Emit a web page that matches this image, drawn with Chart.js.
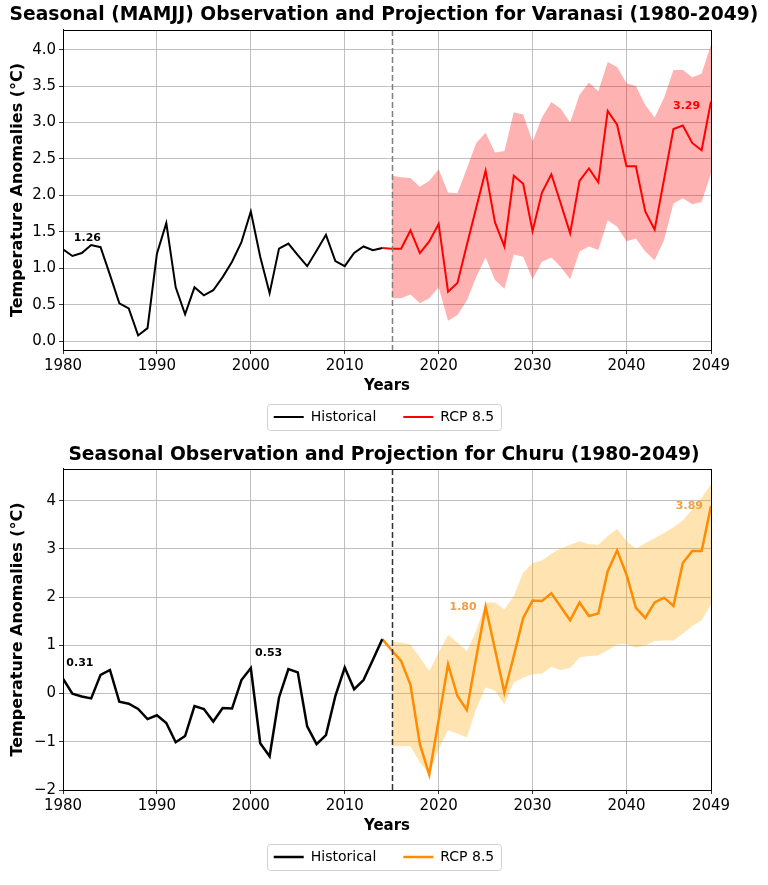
<!DOCTYPE html>
<html><head><meta charset="utf-8">
<script src="https://cdn.jsdelivr.net/npm/chart.js@4.4.0/dist/chart.umd.min.js"></script>
<style>
html,body{margin:0;padding:0;background:#fff;}
#wrap{position:relative;width:768px;height:885px;}
canvas{position:absolute;left:0;}
</style></head><body>
<div id="wrap">
<canvas id="c1" width="768" height="440" style="top:0"></canvas>
<canvas id="c2" width="768" height="445" style="top:440px"></canvas>
</div>
<script>
// ---------- DATA ----------
const histYears = [1980,1981,1982,1983,1984,1985,1986,1987,1988,1989,1990,1991,1992,1993,1994,1995,1996,1997,1998,1999,2000,2001,2002,2003,2004,2005,2006,2007,2008,2009,2010,2011,2012,2013,2014];
const projLineYears = [2014,2015,2016,2017,2018,2019,2020,2021,2022,2023,2024,2025,2026,2027,2028,2029,2030,2031,2032,2033,2034,2035,2036,2037,2038,2039,2040,2041,2042,2043,2044,2045,2046,2047,2048,2049];
const bandYears = [2015,2016,2017,2018,2019,2020,2021,2022,2023,2024,2025,2026,2027,2028,2029,2030,2031,2032,2033,2034,2035,2036,2037,2038,2039,2040,2041,2042,2043,2044,2045,2046,2047,2048,2049];
const projectionStart = 2015;

const varanasiHist = [1.26,1.17,1.21,1.32,1.29,0.91,0.52,0.45,0.08,0.18,1.20,1.62,0.74,0.37,0.74,0.63,0.70,0.88,1.09,1.36,1.78,1.16,0.66,1.27,1.34,1.18,1.03,1.24,1.46,1.10,1.03,1.21,1.30,1.25,1.28];
const varanasiRcp = [1.28,1.27,1.27,1.52,1.21,1.37,1.61,0.68,0.80,1.32,1.83,2.34,1.63,1.30,2.27,2.16,1.51,2.04,2.29,1.89,1.48,2.20,2.37,2.18,3.16,2.97,2.40,2.40,1.78,1.53,2.22,2.91,2.96,2.72,2.62,3.29];
const varanasiUpper = [2.27,2.25,2.24,2.12,2.20,2.36,2.04,2.03,2.37,2.72,2.86,2.59,2.61,3.14,3.11,2.74,3.07,3.28,3.19,3.00,3.38,3.55,3.43,3.83,3.76,3.54,3.50,3.24,3.07,3.34,3.72,3.72,3.62,3.67,4.07];
const varanasiLower = [0.59,0.59,0.64,0.52,0.59,0.74,0.28,0.36,0.56,0.88,1.15,0.84,0.72,1.19,1.16,0.85,1.09,1.15,1.02,0.85,1.23,1.30,1.25,1.66,1.57,1.37,1.41,1.23,1.11,1.39,1.89,1.96,1.88,1.91,2.30];

const churuHist = [0.31,0.00,-0.06,-0.10,0.39,0.49,-0.17,-0.21,-0.32,-0.53,-0.45,-0.61,-1.01,-0.88,-0.26,-0.32,-0.58,-0.30,-0.31,0.28,0.53,-1.03,-1.30,-0.08,0.51,0.44,-0.68,-1.05,-0.86,-0.05,0.54,0.09,0.28,0.70,1.13];
const churuRcp = [1.13,0.90,0.68,0.18,-1.05,-1.68,-0.55,0.61,-0.05,-0.34,0.75,1.80,0.92,0.02,0.78,1.57,1.93,1.92,2.08,1.80,1.52,1.89,1.61,1.66,2.54,2.97,2.47,1.78,1.57,1.89,1.99,1.82,2.71,2.96,2.96,3.89];
const churuUpper = [1.07,1.06,1.02,0.75,0.47,0.85,1.22,1.06,0.88,1.30,1.89,1.89,1.75,2.02,2.51,2.71,2.76,2.90,3.01,3.09,3.16,3.10,3.09,3.27,3.42,3.16,3.01,3.12,3.22,3.33,3.45,3.59,3.82,4.06,4.34];
const churuLower = [-1.10,-1.09,-1.09,-1.43,-1.67,-1.15,-0.76,-0.83,-0.91,-0.32,0.13,0.06,-0.22,0.23,0.33,0.40,0.41,0.55,0.49,0.53,0.75,0.78,0.79,0.90,1.02,1.03,0.95,1.00,1.09,1.10,1.10,1.24,1.40,1.52,1.85];

const xTicks = [1980,1990,2000,2010,2020,2030,2040,2049];
const varanasiYTicks = [0.0,0.5,1.0,1.5,2.0,2.5,3.0,3.5,4.0];
const varanasiYLabels = ['0.0','0.5','1.0','1.5','2.0','2.5','3.0','3.5','4.0'];
const churuYTicks = [-2,-1,0,1,2,3,4];
const churuYLabels = ['\u22122','\u22121','0','1','2','3','4'];

const varanasiNotes = [
  {year:1982.6, value:1.42, text:'1.26', color:'#000'},
  {year:2046.4, value:3.23, text:'3.29', color:'red'}
];
const churuNotes = [
  {year:1981.8, value:0.63, text:'0.31', color:'#000'},
  {year:2001.9, value:0.84, text:'0.53', color:'#000'},
  {year:2022.6, value:1.80, text:'1.80', color:'#eea043'},
  {year:2046.7, value:3.89, text:'3.89', color:'#eea043'}
];

// ---------- HELPERS ----------
const FONT = "'DejaVu Sans', sans-serif";
const pts = (xs, ys) => xs.map((x, i) => ({x: x, y: ys[i]}));

const framePlugin = {
  id: 'frame',
  afterDraw(chart) {
    const {ctx, chartArea: a} = chart;
    ctx.save();
    ctx.strokeStyle = '#000';
    ctx.lineWidth = 1;
    ctx.strokeRect(Math.round(a.left) + 0.5, Math.round(a.top) + 0.5, Math.round(a.right - a.left), Math.round(a.bottom - a.top));
    ctx.restore();
  }
};
const vlinePlugin = {
  id: 'vline',
  afterDatasetsDraw(chart, args, opts) {
    const {ctx, chartArea: a, scales} = chart;
    const x = Math.round(scales.x.getPixelForValue(opts.value)) + 0.5;
    ctx.save();
    ctx.strokeStyle = opts.color;
    ctx.lineWidth = 1.5;
    ctx.setLineDash([6, 3]);
    ctx.beginPath();
    ctx.moveTo(x, a.top);
    ctx.lineTo(x, a.bottom);
    ctx.stroke();
    ctx.restore();
  }
};
const notesPlugin = {
  id: 'notes',
  afterDatasetsDraw(chart, args, opts) {
    const {ctx, scales} = chart;
    ctx.save();
    ctx.font = 'bold 11px ' + FONT;
    ctx.textAlign = 'center';
    ctx.textBaseline = 'middle';
    opts.items.forEach(n => {
      ctx.fillStyle = n.color;
      ctx.fillText(n.text, scales.x.getPixelForValue(n.year), scales.y.getPixelForValue(n.value));
    });
    ctx.restore();
  }
};
const legendBoxPlugin = {
  id: 'legendBox',
  afterDraw(chart) {
    const lg = chart.legend;
    if (!lg || !lg.legendHitBoxes || !lg.legendHitBoxes.length) return;
    const hb = lg.legendHitBoxes;
    let l = Infinity, r = -Infinity, t = Infinity, b = -Infinity;
    hb.forEach(h => { l = Math.min(l, h.left); r = Math.max(r, h.left + h.width); t = Math.min(t, h.top); b = Math.max(b, h.top + h.height); });
    const ctx = chart.ctx;
    ctx.save();
    ctx.strokeStyle = '#d0d0d0';
    ctx.lineWidth = 1;
    const x0 = Math.round(l - 7) + 0.5, y0 = Math.round(t - 6) + 0.5;
    const w = Math.round(r - l + 13), h = Math.round(b - t + 12);
    ctx.beginPath();
    ctx.roundRect(x0, y0, w, h, 3);
    ctx.stroke();
    ctx.restore();
  }
};

function makeChart(id, cfg) {
  return new Chart(document.getElementById(id), {
    type: 'line',
    data: {
      datasets: [
        {label: 'Historical', data: pts(histYears, cfg.hist), borderColor: '#000', backgroundColor: '#000', borderWidth: cfg.histWidth, pointRadius: 0, fill: false, tension: 0},
        {label: 'RCP 8.5', data: pts(projLineYears, cfg.rcp), borderColor: cfg.lineColor, backgroundColor: cfg.lineColor, borderWidth: cfg.rcpWidth, pointRadius: 0, fill: false, tension: 0},
        {label: 'band-upper', data: pts(bandYears, cfg.upper), borderColor: 'rgba(0,0,0,0)', borderWidth: 0, pointRadius: 0, backgroundColor: cfg.bandColor, fill: '+1', tension: 0},
        {label: 'band-lower', data: pts(bandYears, cfg.lower), borderColor: 'rgba(0,0,0,0)', borderWidth: 0, pointRadius: 0, fill: false, tension: 0}
      ]
    },
    options: {
      responsive: false,
      animation: false,
      layout: {padding: {left: 0, right: 0, top: 0, bottom: cfg.padBottom}},
      scales: {
        x: {
          type: 'linear', min: 1980, max: 2049,
          afterBuildTicks: ax => { ax.ticks = xTicks.map(v => ({value: v})); },
          ticks: {callback: v => String(v), color: '#000', font: {family: FONT, size: 15}, padding: 3, maxRotation: 0, autoSkip: false},
          grid: {color: '#b0b0b0', lineWidth: 0.8, tickColor: '#000', tickLength: 4},
          border: {color: '#000', width: 1},
          title: {display: true, text: 'Years', color: '#000', font: {family: FONT, size: 15, weight: 'bold'}, padding: {top: -1, bottom: -12}}
        },
        y: {
          type: 'linear', min: cfg.yMin, max: cfg.yMax,
          afterBuildTicks: ax => { ax.ticks = cfg.yTicks.map(v => ({value: v})); },
          afterFit: ax => { ax.width = 63; },
          ticks: {callback: (v) => { const i = cfg.yTicks.indexOf(v); return i >= 0 ? cfg.yLabels[i] : ''; }, color: '#000', font: {family: FONT, size: 15}, padding: 3, autoSkip: false},
          grid: {color: '#b0b0b0', lineWidth: 0.8, tickColor: '#000', tickLength: 4},
          border: {color: '#000', width: 1},
          title: {display: true, text: 'Temperature Anomalies (\u00B0C)', color: '#000', font: {family: FONT, size: 16, weight: 'bold'}, padding: {top: 8, bottom: 0}}
        },
        yRight: {
          position: 'right', display: true,
          afterFit: ax => { ax.width = 57; },
          ticks: {display: false},
          grid: {display: false, drawTicks: false},
          border: {display: false}
        }
      },
      plugins: {
        title: {display: true, text: cfg.title, color: '#000', font: {family: FONT, size: 18.7, weight: 'bold'}, padding: {top: 4, bottom: cfg.titlePadBottom}},
        legend: {
          display: true, position: 'bottom',
          labels: {
            filter: item => item.text === 'Historical' || item.text === 'RCP 8.5',
            usePointStyle: true, pointStyle: 'line', pointStyleWidth: 30,
            color: '#000', font: {family: FONT, size: 14}, padding: 27
          }
        },
        tooltip: {enabled: false},
        vline: {value: projectionStart, color: cfg.vlineColor},
        notes: {items: cfg.notes}
      }
    },
    plugins: [framePlugin, vlinePlugin, notesPlugin, legendBoxPlugin]
  });
}

makeChart('c1', {
  title: 'Seasonal (MAMJJ) Observation and Projection for Varanasi (1980-2049)',
  hist: varanasiHist, rcp: varanasiRcp, upper: varanasiUpper, lower: varanasiLower,
  lineColor: 'red', bandColor: 'rgba(255,0,0,0.3)', histWidth: 2, rcpWidth: 2,
  yMin: -0.12, yMax: 4.27, yTicks: varanasiYTicks, yLabels: varanasiYLabels,
  vlineColor: '#808080', notes: varanasiNotes, padBottom: 6, titlePadBottom: 3.5
});
makeChart('c2', {
  title: 'Seasonal Observation and Projection for Churu (1980-2049)',
  hist: churuHist, rcp: churuRcp, upper: churuUpper, lower: churuLower,
  lineColor: '#ff8c00', bandColor: 'rgba(255,165,0,0.3)', histWidth: 2.5, rcpWidth: 2.5,
  yMin: -2.0, yMax: 4.66, yTicks: churuYTicks, yLabels: churuYLabels,
  vlineColor: '#333', notes: churuNotes, padBottom: 11, titlePadBottom: 2.5
});
</script>
</body></html>
